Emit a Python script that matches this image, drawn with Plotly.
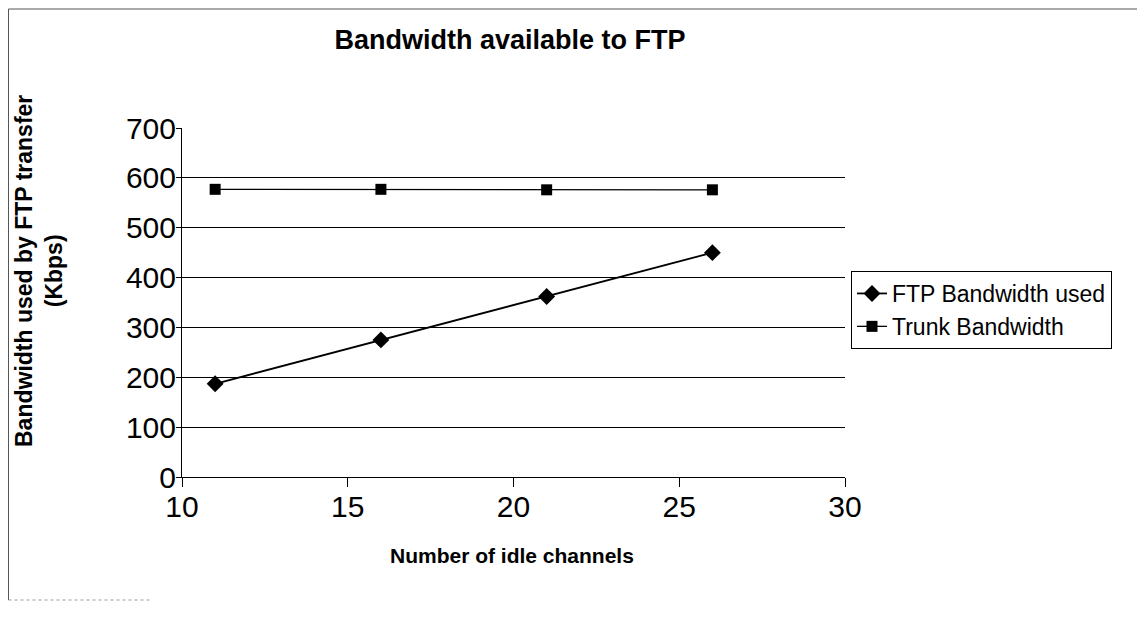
import plotly.graph_objects as go

idle_channels = [11, 16, 21, 26]
ftp_bandwidth = [187, 275, 362, 450]
trunk_bandwidth = [577, 577, 576, 576]
series_names = ["FTP Bandwidth used", "Trunk Bandwidth"]
chart_title = "Bandwidth available to FTP"
x_title = "Number of idle channels"
y_title = "Bandwidth used by FTP transfer<br>(Kbps)"
x_ticks = [10, 15, 20, 25, 30]
y_ticks = [0, 100, 200, 300, 400, 500, 600, 700]

FONT = "Arial, Liberation Sans, sans-serif"
OFF = 8  # page body margin
W, H = 1145, 617
# target page coordinates of plot area
PL, PR, PT, PB = 182, 845, 128, 477
L, R, T = PL - OFF, W - (PR - OFF), PT - OFF
B = H - (PB - OFF)
pw = W - L - R
ph = H - T - B

def px_x(p):
    return (p - OFF - L) / pw

def px_y(p):
    return (H - B - (p - OFF)) / ph

fig = go.Figure()
fig.add_trace(go.Scatter(
    x=idle_channels, y=ftp_bandwidth, name=series_names[0],
    mode="lines+markers",
    line=dict(color="black", width=1.8),
    marker=dict(symbol="diamond", size=13, color="black"),
))
fig.add_trace(go.Scatter(
    x=idle_channels, y=trunk_bandwidth, name=series_names[1],
    mode="lines+markers",
    line=dict(color="black", width=1.3),
    marker=dict(symbol="square", size=11, color="black"),
))

fig.update_layout(
    width=W, height=H,
    margin=dict(l=L, r=R, t=T, b=B, autoexpand=False),
    paper_bgcolor="white", plot_bgcolor="white",
    font=dict(family=FONT, color="black"),
    title=dict(text="<b>" + chart_title + "</b>", x=(510 - OFF) / W, xanchor="center",
               y=1 - (40 - OFF) / H, yanchor="middle", font=dict(size=27, family=FONT)),
    showlegend=True,
    legend=dict(x=px_x(851), y=px_y(271), xanchor="left", yanchor="top",
                bordercolor="black", borderwidth=1, bgcolor="white",
                font=dict(size=23, family=FONT), tracegroupgap=0,
                itemwidth=30),
    xaxis=dict(range=[10, 30], tickvals=x_ticks, ticks="outside", ticklen=9,
               tickcolor="black", showline=True, linecolor="black", linewidth=1,
               showgrid=False, zeroline=False, automargin=False,
               ticklabelstandoff=-6,
               tickfont=dict(size=30, family=FONT)),
    yaxis=dict(range=[0, 700], tickvals=y_ticks, ticks="outside", ticklen=5,
               tickcolor="black", showline=True, linecolor="black", linewidth=1,
               showgrid=True, gridcolor="black", gridwidth=1, zeroline=False,
               automargin=False, ticklabelstandoff=-6,
               tickfont=dict(size=30, family=FONT)),
)

fig.add_annotation(text="<b>" + x_title + "</b>", xref="paper", yref="paper",
                   x=px_x(512), y=px_y(555), showarrow=False,
                   font=dict(size=21, family=FONT), xanchor="center", yanchor="middle")
fig.add_annotation(text="<b>" + y_title + "</b>", xref="paper", yref="paper",
                   x=px_x(39), y=px_y(271), showarrow=False, textangle=-90,
                   font=dict(size=23, family=FONT), xanchor="center", yanchor="middle")

border = dict(color="#555555", width=1)
fig.add_shape(type="line", xref="paper", yref="paper",
              x0=px_x(8.5), x1=px_x(1160), y0=px_y(9), y1=px_y(9), line=border, layer="below")
fig.add_shape(type="line", xref="paper", yref="paper",
              x0=px_x(8.5), x1=px_x(8.5), y0=px_y(9), y1=px_y(600), line=border, layer="below")
fig.add_shape(type="line", xref="paper", yref="paper",
              x0=px_x(8.5), x1=px_x(150), y0=px_y(600), y1=px_y(600),
              line=dict(color="#999999", width=1, dash="dot"), layer="below")

fig.write_html("out.html")
